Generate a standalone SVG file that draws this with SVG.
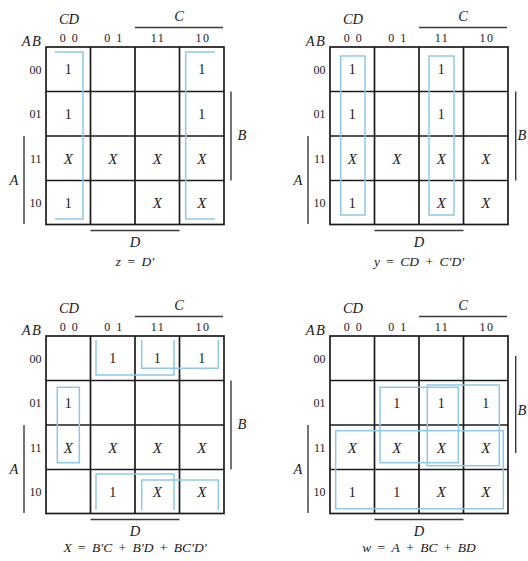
<svg xmlns="http://www.w3.org/2000/svg" width="528" height="561" viewBox="0 0 528 561">
<style>
text{font-family:"Liberation Serif","Times New Roman",serif;fill:#1a1a1a;text-anchor:middle}
.it{font-style:italic}
.lbl{font-size:14.5px;font-style:italic}
.hd{font-size:12px}
.sp{letter-spacing:1.5px}
.rw{font-size:12px;text-anchor:end}
.one{font-size:14px}
.ex{font-size:15px;font-style:italic}
.eq{font-size:13.5px;word-spacing:3px}
.grid{fill:none;stroke:#1c1c1c;stroke-width:1.7}
.bar{fill:none;stroke:#3a3a3a;stroke-width:1.4}
.loop{fill:none;stroke:#8ec7ea;stroke-width:1.5}
</style>
<defs>
<g id="frame">
<rect class="grid" x="0" y="0" width="178" height="177.5"/>
<path class="grid" d="M44.5 0V177.5M89 0V177.5M133.5 0V177.5M0 44.5H178M0 89H178M0 133.5H178"/>
<text class="lbl" x="23" y="-23">CD</text>
<text class="hd sp" x="23.5" y="-5">0 0</text>
<text class="hd sp" x="68" y="-5">0 1</text>
<text class="hd sp" x="112" y="-5">11</text>
<text class="hd sp" x="157" y="-5">10</text>
<text class="lbl sp" x="-14" y="-1">AB</text>
<text class="rw" x="-4.5" y="26.5">00</text>
<text class="rw" x="-4.5" y="71">01</text>
<text class="rw" x="-4.5" y="115.5">11</text>
<text class="rw" x="-4.5" y="160">10</text>
<path class="bar" d="M89 -19.5H177"/>
<text class="lbl" x="133" y="-26.5">C</text>
<path class="bar" d="M-22 89V177"/>
<text class="lbl" x="-32" y="138">A</text>
<path class="bar" d="M44.5 183.5H133.5"/>
<text class="lbl" x="89" y="200">D</text>
</g>
</defs>

<g id="map-z" transform="translate(46,47)">
<use href="#frame"/>
<path class="bar" d="M185 44.5V133.5"/>
<text class="lbl" x="196" y="93">B</text>
<path class="loop" d="M9 5H37V172H9M169 5H139.7V172H169"/>
<text class="one" x="22.25" y="27">1</text><text class="one" x="155.75" y="27">1</text>
<text class="one" x="22.25" y="71.5">1</text><text class="one" x="155.75" y="71.5">1</text>
<text class="ex" x="22.25" y="116.5">X</text><text class="ex" x="66.75" y="116.5">X</text><text class="ex" x="111.25" y="116.5">X</text><text class="ex" x="155.75" y="116.5">X</text>
<text class="one" x="22.25" y="160.5">1</text><text class="ex" x="111.25" y="161">X</text><text class="ex" x="155.75" y="161">X</text>
<text class="eq" x="89" y="219"><tspan class="it">z</tspan> = <tspan class="it">D'</tspan></text>
</g>

<g id="map-y" transform="translate(330,47)">
<use href="#frame"/>
<path class="bar" d="M185.7 44.5V133.5"/>
<text class="lbl" x="192" y="93">B</text>
<rect class="loop" x="10.7" y="9" width="24.3" height="159"/>
<rect class="loop" x="99" y="9" width="25" height="159"/>
<text class="one" x="22.25" y="27">1</text><text class="one" x="111.25" y="27">1</text>
<text class="one" x="22.25" y="71.5">1</text><text class="one" x="111.25" y="71.5">1</text>
<text class="ex" x="22.25" y="116.5">X</text><text class="ex" x="66.75" y="116.5">X</text><text class="ex" x="111.25" y="116.5">X</text><text class="ex" x="155.75" y="116.5">X</text>
<text class="one" x="22.25" y="160.5">1</text><text class="ex" x="111.25" y="161">X</text><text class="ex" x="155.75" y="161">X</text>
<text class="eq" x="89" y="219"><tspan class="it">y</tspan> = <tspan class="it">CD</tspan> + <tspan class="it">C'D'</tspan></text>
</g>

<g id="map-X" transform="translate(46,336)">
<use href="#frame"/>
<path class="bar" d="M185 44.5V133.5"/>
<text class="lbl" x="196" y="93">B</text>
<path class="loop" d="M50 4V39H128V4M95.7 4V32.3H172.3V4"/>
<rect class="loop" x="11.3" y="51.3" width="22" height="75.4"/>
<path class="loop" d="M50 174V138H128V174M95.7 174V144H172.3V174"/>
<text class="one" x="66.75" y="27">1</text><text class="one" x="111.25" y="27">1</text><text class="one" x="155.75" y="27">1</text>
<text class="one" x="22.25" y="71.5">1</text>
<text class="ex" x="22.25" y="116.5">X</text><text class="ex" x="66.75" y="116.5">X</text><text class="ex" x="111.25" y="116.5">X</text><text class="ex" x="155.75" y="116.5">X</text>
<text class="one" x="66.75" y="160.5">1</text><text class="ex" x="111.25" y="161">X</text><text class="ex" x="155.75" y="161">X</text>
<text class="eq" x="89" y="216"><tspan class="it">X</tspan> = <tspan class="it">B'C</tspan> + <tspan class="it">B'D</tspan> + <tspan class="it">BC'D'</tspan></text>
</g>

<g id="map-w" transform="translate(330,336)">
<use href="#frame"/>
<path class="bar" d="M185.7 20V117"/>
<text class="lbl" x="192" y="79">B</text>
<rect class="loop" x="5.7" y="94.7" width="167.6" height="78"/>
<rect class="loop" x="50" y="51.3" width="78.3" height="75.4"/>
<rect class="loop" x="97.3" y="49" width="72" height="80.7"/>
<text class="one" x="66.75" y="71.5">1</text><text class="one" x="111.25" y="71.5">1</text><text class="one" x="155.75" y="71.5">1</text>
<text class="ex" x="22.25" y="116.5">X</text><text class="ex" x="66.75" y="116.5">X</text><text class="ex" x="111.25" y="116.5">X</text><text class="ex" x="155.75" y="116.5">X</text>
<text class="one" x="22.25" y="160.5">1</text><text class="one" x="66.75" y="160.5">1</text><text class="ex" x="111.25" y="161">X</text><text class="ex" x="155.75" y="161">X</text>
<text class="eq" x="89" y="216"><tspan class="it">w</tspan> = <tspan class="it">A</tspan> + <tspan class="it">BC</tspan> + <tspan class="it">BD</tspan></text>
</g>
</svg>
